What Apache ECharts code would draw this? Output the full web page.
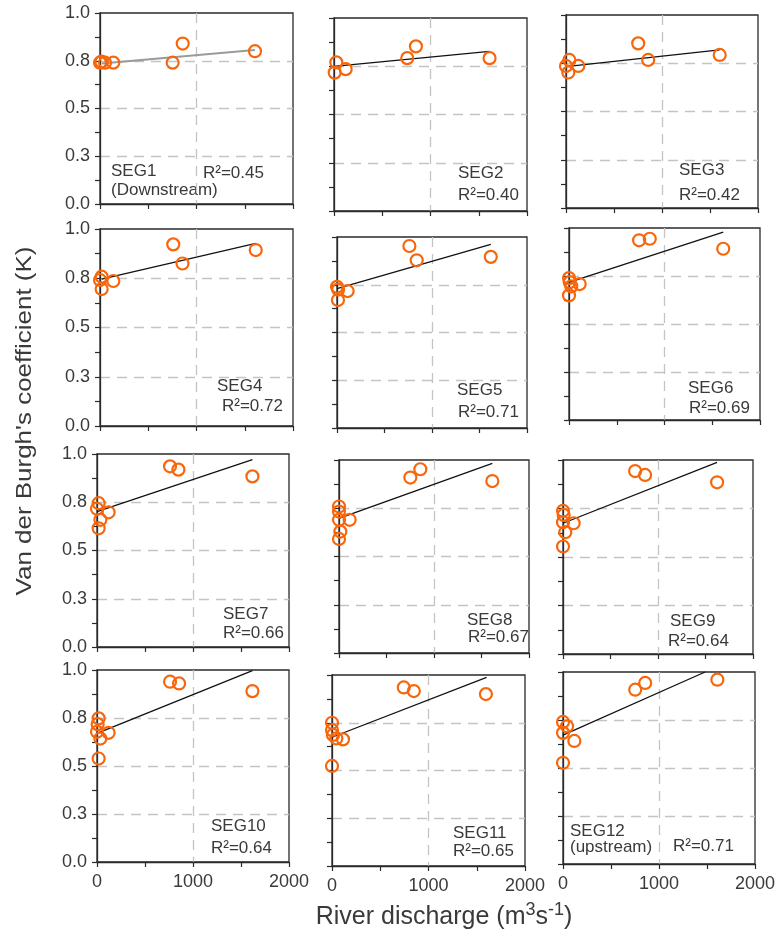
<!DOCTYPE html>
<html>
<head>
<meta charset="utf-8">
<title>Van der Burgh's coefficient vs river discharge</title>
<script src="https://cdn.jsdelivr.net/npm/echarts/dist/echarts.min.js"></script>
<style>
  html, body { margin: 0; padding: 0; background: #ffffff; }
  #chart { width: 783px; height: 944px; }
</style>
</head>
<body>
<div id="chart"></div>
<script>
// ---- data ----
const segments = ['SEG1', 'SEG2', 'SEG3', 'SEG4', 'SEG5', 'SEG6',
                  'SEG7', 'SEG8', 'SEG9', 'SEG10', 'SEG11', 'SEG12'];
const segNotes = ['(Downstream)', '', '', '', '', '', '', '', '', '', '', '(upstream)'];
const r2Labels = ['R\u00B2=0.45', 'R\u00B2=0.40', 'R\u00B2=0.42', 'R\u00B2=0.72',
                  'R\u00B2=0.71', 'R\u00B2=0.69', 'R\u00B2=0.66', 'R\u00B2=0.67',
                  'R\u00B2=0.64', 'R\u00B2=0.64', 'R\u00B2=0.65', 'R\u00B2=0.71'];
const xTickLabels = ['0', '1000', '2000'];
const yTickLabels = ['0.0', '0.3', '0.5', '0.8', '1.0'];

// River discharge (m3/s) per segment
const discharge = [
  [0, 15, 52, 138, 753, 857, 1606],
  [24, 7, 121, 759, 849, 1612],
  [0, 35, 24, 128, 752, 856, 1601],
  [0, 17, 17, 138, 759, 855, 1614],
  [0, 12, 112, 10, 762, 839, 1619],
  [0, 8, 24, 112, 0, 734, 846, 1615],
  [17, 0, 35, 17, 121, 761, 848, 1619],
  [0, 0, 0, 14, 0, 112, 751, 856, 1614],
  [0, 7, 0, 112, 24, 0, 759, 864, 1622],
  [17, 7, 0, 35, 121, 17, 761, 855, 1619],
  [0, 0, 10, 45, 114, 0, 744, 848, 1595],
  [0, 42, 0, 118, 0, 752, 856, 1608]
];
// Van der Burgh's coefficient K per segment
const vdbK = [
  [0.74, 0.745, 0.74, 0.74, 0.74, 0.84, 0.80],
  [0.77, 0.717, 0.735, 0.792, 0.853, 0.792],
  [0.736, 0.767, 0.702, 0.736, 0.853, 0.767, 0.793],
  [0.741, 0.758, 0.695, 0.736, 0.922, 0.825, 0.893],
  [0.739, 0.725, 0.717, 0.670, 0.953, 0.878, 0.896],
  [0.739, 0.718, 0.696, 0.708, 0.649, 0.936, 0.944, 0.892],
  [0.745, 0.716, 0.659, 0.615, 0.698, 0.936, 0.919, 0.884],
  [0.759, 0.733, 0.690, 0.629, 0.591, 0.690, 0.909, 0.952, 0.891],
  [0.738, 0.717, 0.679, 0.674, 0.628, 0.554, 0.943, 0.923, 0.885],
  [0.748, 0.718, 0.678, 0.643, 0.673, 0.539, 0.939, 0.930, 0.890],
  [0.750, 0.712, 0.686, 0.668, 0.663, 0.524, 0.935, 0.916, 0.900],
  [0.740, 0.717, 0.683, 0.641, 0.527, 0.908, 0.943, 0.960]
];
// Linear fit per segment: [Q start, K start, Q end, K end]
const fitLines = [
  [17, 0.735, 1606, 0.806],
  [0, 0.749, 1612, 0.827],
  [0, 0.733, 1601, 0.819],
  [17, 0.746, 1614, 0.927],
  [0, 0.730, 1619, 0.962],
  [0, 0.717, 1615, 0.979],
  [0, 0.702, 1619, 0.971],
  [0, 0.698, 1614, 0.983],
  [0, 0.674, 1622, 0.988],
  [0, 0.670, 1619, 0.997],
  [0, 0.674, 1602, 0.988],
  [0, 0.671, 1480, 1.000]
];

// ---- layout ----
const panels = [
  { left: 100, top: 13,  width: 193, height: 191 },
  { left: 334, top: 18,  width: 193, height: 193 },
  { left: 566, top: 15,  width: 192, height: 193 },
  { left: 100, top: 229, width: 193, height: 197 },
  { left: 337, top: 237, width: 190, height: 191 },
  { left: 569, top: 228, width: 191, height: 192 },
  { left: 97,  top: 454, width: 192, height: 193 },
  { left: 339, top: 460, width: 190, height: 193 },
  { left: 563, top: 460, width: 190, height: 194 },
  { left: 97,  top: 670, width: 192, height: 192 },
  { left: 332, top: 675, width: 193, height: 191 },
  { left: 563, top: 672, width: 192, height: 192 }
];
// text anchors (left x, middle y): segment name, note line, R2
const textPos = [
  { seg: [111, 171], note: [111, 190], r2: [203, 173] },
  { seg: [458, 173], r2: [458, 195] },
  { seg: [679, 170], r2: [679, 195] },
  { seg: [217, 386], r2: [222, 406] },
  { seg: [457, 390], r2: [458, 412] },
  { seg: [688, 388], r2: [689, 408] },
  { seg: [223, 614], r2: [223, 633] },
  { seg: [467, 620], r2: [468, 637] },
  { seg: [670, 621], r2: [668, 641] },
  { seg: [211, 826], r2: [211, 848] },
  { seg: [453, 833], r2: [453, 851] },
  { seg: [570, 831], note: [570, 847], r2: [673, 846] }
];

const FONT = '"Liberation Sans", Arial, Helvetica, sans-serif';
const FRAME = '#2a2a2a';
const GRIDLINE = '#c4c4c4';
const TEXT = '#3a3a3a';
const ORANGE = '#f8660c';

const grids = [], xAxes = [], yAxes = [], series = [], graphics = [];

panels.forEach((p, i) => {
  const col = i % 3, row = Math.floor(i / 3);
  grids.push({
    left: p.left, top: p.top, width: p.width, height: p.height,
    containLabel: false, outerBoundsMode: 'none',
    show: true, borderColor: FRAME, borderWidth: 1.3, backgroundColor: 'transparent'
  });
  xAxes.push({
    gridIndex: i, type: 'value', min: 0, max: 2000, interval: 1000,
    axisLine: { show: true, onZero: false, lineStyle: { color: FRAME, width: 1.3 } },
    axisTick: { show: true, inside: false, length: 5, lineStyle: { color: FRAME, width: 1.2 } },
    minorTick: { show: true, splitNumber: 2, length: 5, lineStyle: { color: FRAME, width: 1.2 } },
    splitLine: { show: true, lineStyle: { color: ['transparent', GRIDLINE, 'transparent'], type: [10, 7], width: 1.3 } },
    minorSplitLine: { show: false },
    axisLabel: {
      show: row === 3, margin: 11, fontFamily: FONT, fontSize: 18, color: TEXT,
      showMinLabel: true, showMaxLabel: true, hideOverlap: false,
      formatter: v => xTickLabels[Math.round(v / 1000)]
    }
  });
  yAxes.push({
    gridIndex: i, type: 'value', min: 0, max: 1, interval: 0.25,
    axisLine: { show: true, onZero: false, lineStyle: { color: FRAME, width: 1.3 } },
    axisTick: { show: true, inside: false, length: 5, lineStyle: { color: FRAME, width: 1.2 } },
    minorTick: { show: true, splitNumber: 2, length: 5, lineStyle: { color: FRAME, width: 1.2 } },
    splitLine: { show: true, lineStyle: { color: ['transparent', GRIDLINE, GRIDLINE, GRIDLINE, 'transparent'], type: [10, 7], width: 1.3 } },
    minorSplitLine: { show: false },
    axisLabel: {
      show: col === 0, margin: 10, fontFamily: FONT, fontSize: 18, color: TEXT,
      showMinLabel: true, showMaxLabel: true, hideOverlap: false,
      formatter: v => yTickLabels[Math.round(v / 0.25)]
    }
  });
  const f = fitLines[i];
  series.push({
    type: 'line', xAxisIndex: i, yAxisIndex: i,
    data: [[f[0], f[1]], [f[2], f[3]]],
    showSymbol: false, silent: true, z: 2,
    lineStyle: { color: i === 0 ? '#9a9a9a' : '#111111', width: i === 0 ? 2 : 1.3 }
  });
  series.push({
    type: 'scatter', xAxisIndex: i, yAxisIndex: i,
    data: discharge[i].map((q, k) => [q, vdbK[i][k]]),
    symbol: 'circle', symbolSize: 12, z: 3,
    itemStyle: { color: 'rgba(255,255,255,0)', borderColor: ORANGE, borderWidth: 2.2, opacity: 1 }
  });

  const t = textPos[i];
  const txt = (s, pos) => ({
    type: 'text', x: pos[0], y: pos[1], silent: true,
    style: { text: s, fill: TEXT, font: '17px ' + FONT, textAlign: 'left', textVerticalAlign: 'middle' }
  });
  graphics.push(txt(segments[i], t.seg));
  if (segNotes[i]) graphics.push(txt(segNotes[i], t.note));
  graphics.push(txt(r2Labels[i], t.r2));
});

// axis titles
graphics.push({
  type: 'text', x: 25, y: 421, rotation: Math.PI / 2, scaleX: 1.18, silent: true,
  style: {
    text: "Van der Burgh's coefficient (K)", fill: TEXT,
    font: '22px ' + FONT, textAlign: 'center', textVerticalAlign: 'middle'
  }
});
graphics.push({
  type: 'text', x: 444, y: 917, silent: true,
  style: {
    text: 'River discharge (m{sup|3}s{sup|-1})', fill: TEXT,
    font: '25px ' + FONT, textAlign: 'center', textVerticalAlign: 'middle',
    rich: {
      sup: { fontSize: 18, fontFamily: FONT, fill: TEXT, verticalAlign: 'top', lineHeight: 32 }
    }
  }
});

const chart = echarts.init(document.getElementById('chart'), null, { renderer: 'canvas' });
chart.setOption({
  animation: false,
  backgroundColor: '#ffffff',
  grid: grids,
  xAxis: xAxes,
  yAxis: yAxes,
  series: series,
  graphic: graphics
});
</script>
</body>
</html>
